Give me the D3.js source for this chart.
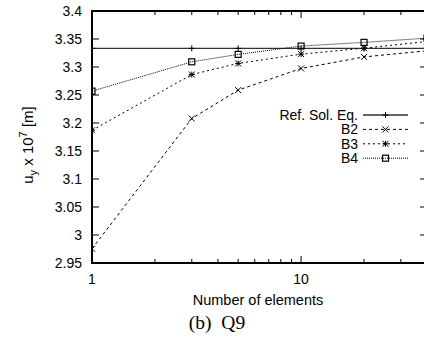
<!DOCTYPE html>
<html>
<head>
<meta charset="utf-8">
<script src="https://cdn.jsdelivr.net/npm/d3@7"></script>
<style>
  body { margin: 0; background: #fff; }
  svg text { font-family: "Liberation Sans", Arial, sans-serif; }
</style>
</head>
<body>
<svg id="chart" width="424" height="338"></svg>
<script>
// number of elements per side
var elements = [1, 3, 5, 10, 20, 40];
// u_y x 10^7 [m]
var refSol = [3.3333, 3.3333, 3.3333, 3.3333, 3.3333, 3.3333];
var b2 = [2.9755, 3.208, 3.2587, 3.2974, 3.318, 3.329];
var b3 = [3.187, 3.2865, 3.3064, 3.323, 3.3336, 3.3456];
var b4 = [3.2569, 3.3093, 3.3225, 3.3374, 3.344, 3.3515];

var yTicks = [2.95, 3, 3.05, 3.1, 3.15, 3.2, 3.25, 3.3, 3.35, 3.4];
var xTicks = [1, 10];
var xMinor = [2, 3, 4, 5, 6, 7, 8, 9, 20, 30];

var svg = d3.select('#chart'),
    pLeft = 92, pRight = 427, pTop = 11, pBottom = 263;

var x = d3.scaleLog().domain([1, 40]).range([pLeft, pRight]);
var y = d3.scaleLinear().domain([2.95, 3.4]).range([pBottom, pTop]);

var series = [
  { name: 'Ref. Sol. Eq.', values: refSol, dash: null, color: '#333', width: 1.3, mark: 'plus' },
  { name: 'B2', values: b2, dash: '3,3', color: '#000', width: 1, mark: 'cross' },
  { name: 'B3', values: b3, dash: '2,3', color: '#000', width: 1, mark: 'star' },
  { name: 'B4', values: b4, dash: '1,1', color: '#000', width: 1, mark: 'square' }
];

var drawMark = function (g, type, cx, cy) {
  var s = 3;
  if (type === 'plus' || type === 'star') {
    g.append('path').attr('d', 'M' + (cx - s) + ',' + cy + 'H' + (cx + s) + 'M' + cx + ',' + (cy - s) + 'V' + (cy + s))
      .attr('stroke', '#000').attr('stroke-width', 1);
  }
  if (type === 'cross' || type === 'star') {
    g.append('path').attr('d', 'M' + (cx - s) + ',' + (cy - s) + 'L' + (cx + s) + ',' + (cy + s) + 'M' + (cx - s) + ',' + (cy + s) + 'L' + (cx + s) + ',' + (cy - s))
      .attr('stroke', '#000').attr('stroke-width', 1);
  }
  if (type === 'square') {
    g.append('rect').attr('x', cx - 3).attr('y', cy - 3).attr('width', 6).attr('height', 6)
      .attr('fill', 'none').attr('stroke', '#000').attr('stroke-width', 1.2);
  }
};

svg.append('clipPath').attr('id', 'plotclip')
  .append('rect').attr('x', pLeft).attr('y', pTop).attr('width', pRight - pLeft).attr('height', pBottom - pTop);

var plot = svg.append('g').attr('clip-path', 'url(#plotclip)');
var line = d3.line();

series.forEach(function (s) {
  var pts = elements.map(function (e, i) { return [x(e), y(s.values[i])]; });
  plot.append('path').attr('d', line(pts))
    .attr('fill', 'none').attr('stroke', s.color).attr('stroke-width', s.width)
    .attr('stroke-dasharray', s.dash);
  pts.forEach(function (p) { drawMark(plot, s.mark, p[0], p[1]); });
});

// frame and inward ticks, on all four sides
var axes = svg.append('g').attr('stroke', '#000');
yTicks.forEach(function (t) {
  axes.append('line').attr('x1', pLeft).attr('x2', pLeft + 7).attr('y1', y(t)).attr('y2', y(t));
  axes.append('line').attr('x1', pRight).attr('x2', pRight - 7).attr('y1', y(t)).attr('y2', y(t));
});
xTicks.forEach(function (t) {
  axes.append('line').attr('x1', x(t)).attr('x2', x(t)).attr('y1', pBottom).attr('y2', pBottom - 7);
  axes.append('line').attr('x1', x(t)).attr('x2', x(t)).attr('y1', pTop).attr('y2', pTop + 7);
});
xMinor.forEach(function (t) {
  axes.append('line').attr('x1', x(t)).attr('x2', x(t)).attr('y1', pBottom).attr('y2', pBottom - 4);
  axes.append('line').attr('x1', x(t)).attr('x2', x(t)).attr('y1', pTop).attr('y2', pTop + 4);
});
axes.append('rect').attr('x', pLeft).attr('y', pTop).attr('width', pRight - pLeft).attr('height', pBottom - pTop)
  .attr('fill', 'none').attr('stroke-width', 2);

svg.selectAll('.ylab').data(yTicks).enter().append('text')
  .attr('x', pLeft - 10).attr('y', function (d) { return y(d) + 5; })
  .attr('text-anchor', 'end').attr('font-size', 14)
  .text(function (d) { return d; });

svg.selectAll('.xlab').data(xTicks).enter().append('text')
  .attr('x', function (d) { return x(d); }).attr('y', pBottom + 21)
  .attr('text-anchor', 'middle').attr('font-size', 14)
  .text(function (d) { return d; });

svg.append('text').attr('x', 258).attr('y', 305).attr('text-anchor', 'middle')
  .attr('font-size', 14.5).text('Number of elements');

var ylab = svg.append('text').attr('transform', 'translate(33,145) rotate(-90)')
  .attr('text-anchor', 'middle').attr('font-size', 15);
ylab.append('tspan').text('u');
ylab.append('tspan').attr('font-size', 11).attr('dy', 4).text('y');
ylab.append('tspan').attr('dy', -4).text(' x 10');
ylab.append('tspan').attr('font-size', 11).attr('dy', -6).text('7');
ylab.append('tspan').attr('dy', 6).text(' [m]');

svg.append('text').attr('x', 217).attr('y', 329).attr('text-anchor', 'middle')
  .attr('font-size', 19.5).attr('xml:space', 'preserve')
  .style('font-family', '"Liberation Serif", "Times New Roman", serif')
  .style('white-space', 'pre')
  .text('(b)  Q9');

// legend
var legend = svg.append('g');
series.forEach(function (s, i) {
  var ly = 115 + i * 14.4;
  legend.append('text').attr('x', 358).attr('y', ly + 5).attr('text-anchor', 'end')
    .attr('font-size', 14).text(s.name);
  legend.append('line').attr('x1', 363).attr('x2', 408).attr('y1', ly).attr('y2', ly)
    .attr('stroke', s.color).attr('stroke-width', s.width).attr('stroke-dasharray', s.dash);
  drawMark(legend, s.mark, 385.5, ly);
});
</script>
</body>
</html>
